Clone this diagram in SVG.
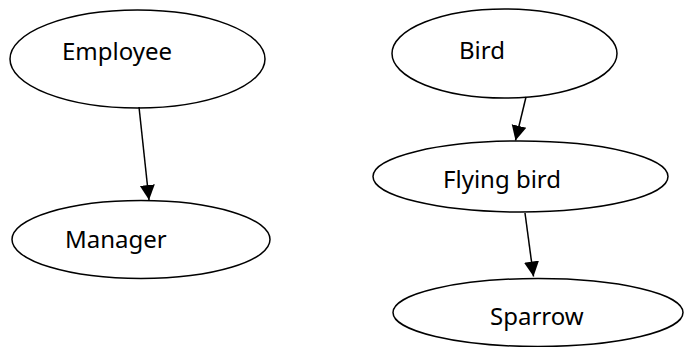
<svg xmlns="http://www.w3.org/2000/svg" width="684" height="347" viewBox="0 0 684 347">
<style>
.n ellipse{fill:#fff;stroke:#000;stroke-width:1.5}
.n text{font-family:"Noto Sans","Open Sans",sans-serif;font-size:24px;fill:#000}
.c line{stroke:#000;stroke-width:1.5}
</style>
<defs>
<marker id="ah" markerUnits="userSpaceOnUse" markerWidth="16" markerHeight="16" viewBox="0 0 16 16" refX="15" refY="8" orient="auto">
<path d="M0,0.5 L15,8 L0,15.5 Z" fill="#000"/>
</marker>
</defs>
<rect width="684" height="347" fill="#fff"/>
<g class="n" id="employee"><ellipse cx="137.5" cy="59" rx="127.5" ry="49"/><text x="62" y="60">Employee</text></g>
<g class="n" id="manager"><ellipse cx="141" cy="239.5" rx="129" ry="39"/><text x="65" y="248">Manager</text></g>
<g class="n" id="bird"><ellipse cx="504.5" cy="53.5" rx="112.5" ry="44.5"/><text x="459" y="59">Bird</text></g>
<g class="n" id="flyingbird"><ellipse cx="520.5" cy="176.5" rx="147.5" ry="35.5"/><text x="443" y="188">Flying bird</text></g>
<g class="n" id="sparrow"><ellipse cx="538" cy="312.5" rx="145" ry="34"/><text x="490" y="325">Sparrow</text></g>
<g class="c" id="connectors">
<line x1="139" y1="107" x2="149" y2="200" marker-end="url(#ah)"/>
<line x1="526" y1="97" x2="515.5" y2="140.5" marker-end="url(#ah)"/>
<line x1="525" y1="213" x2="533.5" y2="276.5" marker-end="url(#ah)"/>
</g>
</svg>
